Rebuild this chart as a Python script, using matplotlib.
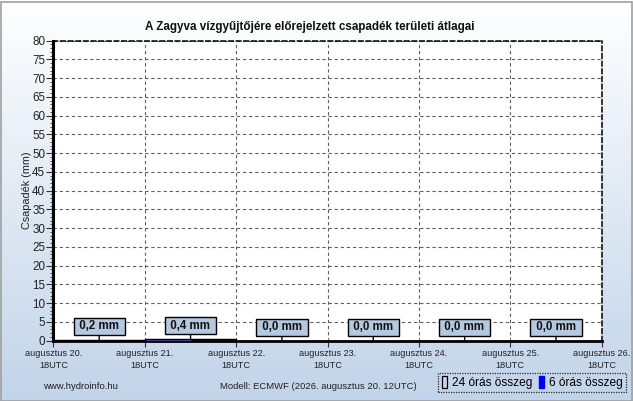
import numpy as np
import matplotlib
matplotlib.use("Agg")
import matplotlib.pyplot as plt
from matplotlib.patches import Rectangle
from matplotlib.ticker import MultipleLocator

# ---- data ----
day_labels = ["augusztus 20.\n18UTC", "augusztus 21.\n18UTC", "augusztus 22.\n18UTC",
              "augusztus 23.\n18UTC", "augusztus 24.\n18UTC", "augusztus 25.\n18UTC",
              "augusztus 26.\n18UTC"]
sum24 = [0.2, 0.4, 0.0, 0.0, 0.0, 0.0]
sum24_labels = ["0,2 mm", "0,4 mm", "0,0 mm", "0,0 mm", "0,0 mm", "0,0 mm"]
sum6 = [0.05, 0.05, 0.05, 0.05,
        0.2, 0.1, 0.05, 0.05,
        0.0, 0.0, 0.0, 0.0,
        0.0, 0.0, 0.0, 0.0,
        0.0, 0.0, 0.0, 0.0,
        0.0, 0.0, 0.0, 0.0]
title = "A Zagyva vízgyűjtőjére előrejelzett csapadék területi átlagai"
ylabel = "Csapadék (mm)"
footer_left = "www.hydroinfo.hu"
footer_mid = "Modell: ECMWF (2026. augusztus 20. 12UTC)"
legend_labels = ["24 órás összeg", "6 órás összeg"]

plt.rcParams['font.family'] = ['Liberation Sans', 'DejaVu Sans']

W, H = 633, 401
fig = plt.figure(figsize=(W / 100, H / 100), dpi=100)

# background gradient
bg = fig.add_axes([0, 0, 1, 1], zorder=-10)
top = np.array([1.0, 1.0, 1.0])
bot = np.array([194, 212, 233]) / 255.0
t = np.linspace(0, 1, 256)[:, None]
grad = (top[None, :] * (1 - t) + bot[None, :] * t)[:, None, :]
bg.imshow(grad, aspect='auto', extent=[0, 1, 0, 1], origin='upper')
bg.set_axis_off()
fig.patches.append(Rectangle((0.5 / W, 0.5 / H), 1 - 1.5 / W, 1 - 2.5 / H, transform=fig.transFigure,
                             fill=False, edgecolor='#a0a0a0', linewidth=1.2))

l, r, tp, b = 53.5, 601.7, 40.5, 340.7
ax = fig.add_axes([l / W, 1 - b / H, (r - l) / W, (b - tp) / H])
ax.set_facecolor('white')
ax.set_xlim(0, len(sum24))
ax.set_ylim(0, 80)

# grid
ax.yaxis.set_major_locator(MultipleLocator(5))
ax.yaxis.set_minor_locator(MultipleLocator(1))
ax.set_xticks(np.arange(len(day_labels)))
ax.set_xticklabels(day_labels, fontsize=6.6, color='#222222', linespacing=1.45)
ax.grid(True, which='major', linestyle=(0, (3, 2.5)), color='#606060', linewidth=0.8)
ax.set_axisbelow(True)

for s in ['top', 'right']:
    ax.spines[s].set_linestyle((0, (3, 2)))
    ax.spines[s].set_linewidth(1.1)
    ax.spines[s].set_color('black')
ax.spines['left'].set_linewidth(2.2)
ax.spines['bottom'].set_linewidth(2.0)

ax.tick_params(axis='y', which='major', length=5, width=0.8, labelsize=8.4, color='#333333', pad=1, labelcolor='#222222')
ax.tick_params(axis='y', which='minor', length=2, width=0.6, color='#333333')
ax.tick_params(axis='x', which='major', length=4, width=0.8, pad=2, color='#333333')

# 6-hour bars
x6 = np.arange(len(sum6)) * 0.25
ax.bar(x6, sum6, width=0.25, align='edge', color='#6a6ae0', edgecolor='none', zorder=3)
# 24-hour outline bars
x24 = np.arange(len(sum24))
ax.bar(x24, sum24, width=1.0, align='edge', fill=False, edgecolor='black', linewidth=1.0, zorder=4)

for i, (v, lab) in enumerate(zip(sum24, sum24_labels)):
    ax.annotate(" " + lab + " ", xy=(i + 0.5, v), xytext=(0, 13.5), textcoords='offset pixels',
                ha='center', va='center', fontsize=8.3, fontweight='bold', color='#111111',
                bbox=dict(boxstyle='square,pad=0.22', facecolor='#b4c8df', edgecolor='black', linewidth=1.0),
                arrowprops=dict(arrowstyle='-', color='black', linewidth=1.0, shrinkA=0, shrinkB=0),
                zorder=6)

ax.set_ylabel(ylabel, fontsize=7.8, color='#222222')
ax.yaxis.set_label_coords((32 - l) / (r - l), 0.5)

fig.text(310 / W, 1 - 27 / H, title, ha='center', va='center', fontsize=8.4, fontweight='bold', color='#111111')
fig.text(80.7 / W, 1 - 386.5 / H, footer_left, ha='center', va='center', fontsize=6.8, color='#222222')
fig.text(318.7 / W, 1 - 386.5 / H, footer_mid, ha='center', va='center', fontsize=6.8, color='#222222')

h1 = Rectangle((0, 0), 1, 1, facecolor='none', edgecolor='black', linewidth=0.9)
h2 = Rectangle((0, 0), 1, 1, facecolor='#0000ff', edgecolor='#0000ff')
leg = fig.legend([h1, h2], legend_labels, loc='center', bbox_to_anchor=(532 / W, 1 - 382.5 / H),
                 ncol=2, fontsize=8.6, frameon=True, handlelength=0.45, handleheight=1.1,
                 handletextpad=0.4, columnspacing=0.55, borderpad=0.3, fancybox=False,
                 borderaxespad=0)
fr = leg.get_frame()
fr.set_facecolor('none')
fr.set_edgecolor('black')
fr.set_linestyle((0, (1, 1)))
fr.set_linewidth(0.9)

fig.savefig('out.png', dpi=100)
